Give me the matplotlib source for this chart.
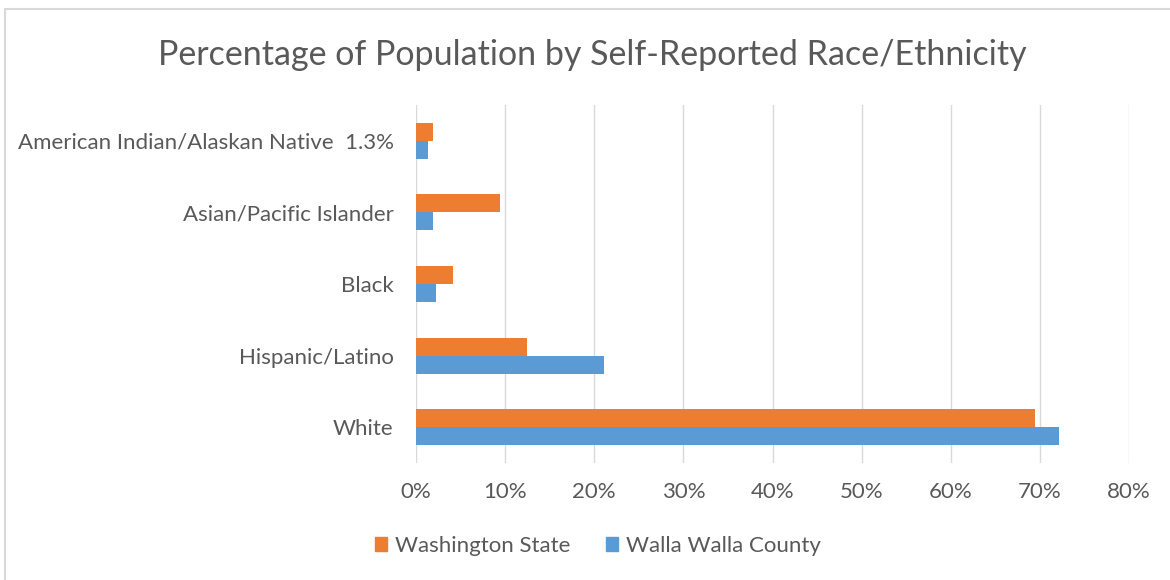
import matplotlib
matplotlib.use("Agg")
import matplotlib.pyplot as plt
from matplotlib.patches import Rectangle, Patch
from matplotlib.ticker import FuncFormatter
import numpy as np

plt.rcParams['font.family'] = ['Lato', 'DejaVu Sans']

categories = ["White", "Hispanic/Latino", "Black", "Asian/Pacific Islander",
              "American Indian/Alaskan Native  1.3%"]
washington_state = [69.5, 12.4, 4.1, 9.4, 1.9]
walla_walla_county = [72.1, 21.1, 2.2, 1.9, 1.3]
series_names = ["Washington State", "Walla Walla County"]
x_ticks = [0, 10, 20, 30, 40, 50, 60, 70, 80]

ORANGE = "#ED7D31"
BLUE = "#5B9BD5"
TEXT = "#595959"
GRID = "#D9D9D9"

W, H = 1170, 580
fig = plt.figure(figsize=(W / 100, H / 100), dpi=100)

# chart border
fig.patches.append(Rectangle((5 / W, -0.05), 1.2, 1 - 9 / H + 0.05,
                             transform=fig.transFigure, fill=False,
                             edgecolor=GRID, linewidth=1.5))

ax = fig.add_axes([416 / W, 1 - 463 / H, (1129 - 416) / W, (463 - 105) / H])
y = np.arange(len(categories))
h = 0.25
ax.barh(y + h / 2, washington_state, height=h, color=ORANGE, label=series_names[0], zorder=3)
ax.barh(y - h / 2, walla_walla_county, height=h, color=BLUE, label=series_names[1], zorder=3)

ax.set_xlim(0, 80)
ax.set_ylim(-0.5, len(categories) - 0.5)
ax.set_xticks(x_ticks)
ax.xaxis.set_major_formatter(FuncFormatter(lambda v, p: f"{int(v)}%"))
ax.set_yticks(y)
ax.set_yticklabels(categories)
ax.grid(axis="x", color=GRID, linewidth=1, zorder=0)
for s in ax.spines.values():
    s.set_visible(False)
ax.tick_params(axis="both", length=0, colors=TEXT, labelsize=16)
ax.tick_params(axis="x", pad=14)
ax.tick_params(axis="y", pad=16)

fig.text(592 / W, 1 - 55 / H, "Percentage of Population by Self-Reported Race/Ethnicity",
         ha="center", va="center", fontsize=24.5, color=TEXT)

handles = [Patch(color=ORANGE), Patch(color=BLUE)]
leg = fig.legend(handles, series_names, loc="center", bbox_to_anchor=(598 / W, 1 - 546 / H),
                 ncol=2, frameon=False, fontsize=16, handlelength=0.55, handleheight=0.55,
                 handletextpad=0.35, columnspacing=1.6)
for t in leg.get_texts():
    t.set_color(TEXT)

fig.savefig("out.png", dpi=100, facecolor="white")
